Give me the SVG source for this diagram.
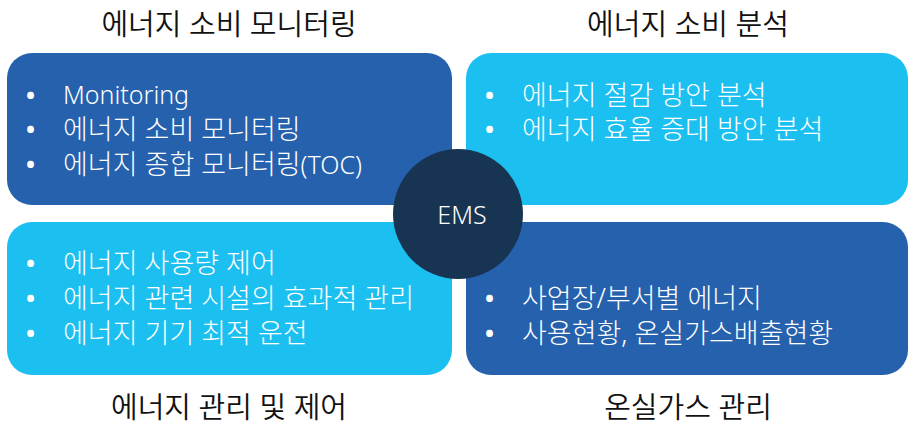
<svg xmlns="http://www.w3.org/2000/svg" width="910" height="426" viewBox="0 0 910 426">
<style>
text{font-family:"Noto Sans","Noto Sans CJK KR",sans-serif;font-weight:300}
.dark{fill:#2561ad}
.light{fill:#1bc0f0}
.t{fill:#ffffff;font-size:27px}
.l{font-size:25px}
.b{fill:#ffffff;font-size:24px;font-weight:700}
.title{fill:#111111;font-size:29px;text-anchor:middle;font-weight:350}
</style>
<rect width="910" height="426" fill="#ffffff"/>
<g id="title-tl"><text class="title" x="229" y="35">에너지 소비 모니터링</text></g>
<g id="title-tr"><text class="title" x="688" y="35">에너지 소비 분석</text></g>
<g id="title-bl"><text class="title" x="229" y="418">에너지 관리 및 제어</text></g>
<g id="title-br"><text class="title" x="688" y="418">온실가스 관리</text></g>
<g id="box-tl">
<rect class="dark" x="7" y="53" width="445" height="152" rx="25"/>
<text class="b" x="26" y="104">•</text><text class="t l" x="63" y="104">Monitoring</text>
<text class="b" x="26" y="138">•</text><text class="t" x="63" y="139">에너지 소비 모니터링</text>
<text class="b" x="26" y="173">•</text><text class="t" x="63" y="174">에너지 종합 모니터링<tspan class="l">(TOC)</tspan></text>
</g>
<g id="box-tr">
<rect class="light" x="466" y="53" width="442" height="152" rx="25"/>
<text class="b" x="485" y="104">•</text><text class="t" x="522" y="105">에너지 절감 방안 분석</text>
<text class="b" x="485" y="138">•</text><text class="t" x="522" y="139">에너지 효율 증대 방안 분석</text>
</g>
<g id="box-bl">
<rect class="light" x="7" y="222" width="445" height="153" rx="25"/>
<text class="b" x="26" y="272">•</text><text class="t" x="63" y="273">에너지 사용량 제어</text>
<text class="b" x="26" y="307">•</text><text class="t" x="63" y="308">에너지 관련 시설의 효과적 관리</text>
<text class="b" x="26" y="342">•</text><text class="t" x="63" y="343">에너지 기기 최적 운전</text>
</g>
<g id="box-br">
<rect class="dark" x="466" y="222" width="442" height="153" rx="25"/>
<text class="b" x="485" y="307">•</text><text class="t" x="522" y="308">사업장/부서별 에너지</text>
<text class="b" x="485" y="342">•</text><text class="t" x="522" y="343">사용현황, 온실가스배출현황</text>
</g>
<g id="ems">
<circle cx="458" cy="214" r="65" fill="#173553"/>
<text x="462" y="224" fill="#ffffff" font-size="25" text-anchor="middle">EMS</text>
</g>
<g id="connectors"/>
</svg>
